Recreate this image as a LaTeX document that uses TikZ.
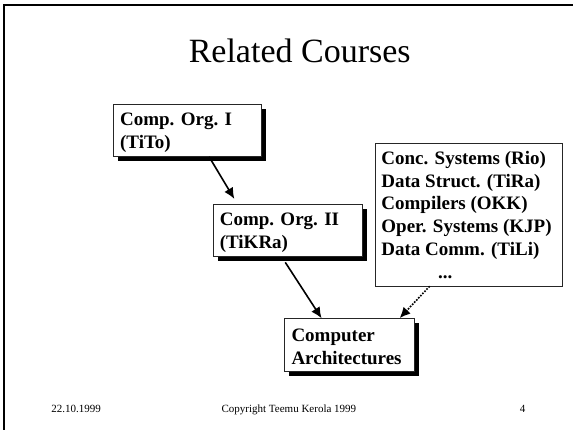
\documentclass[tikz,border=0pt]{standalone}
\usepackage{fontspec}
\setmainfont{Liberation Serif}
\usetikzlibrary{arrows.meta,shadows,calc}
\begin{document}
\begin{tikzpicture}[x=1pt,y=-1pt,
  frameline/.style={line width=2pt, black},
  box/.style={draw=black!85, line width=0.8pt, fill=white, anchor=north west, inner sep=0pt,
    drop shadow={shadow xshift=4.5pt, shadow yshift=-4.5pt, fill=black, opacity=1}},
  listbox/.style={draw=black!85, line width=0.8pt, fill=white, anchor=north west, inner sep=0pt},
  txt/.style={anchor=north west, inner sep=0pt, align=left, font=\fontsize{19}{23}\selectfont\bfseries},
  arr/.style={line width=1.6pt, -{Latex[length=11pt,width=10pt]}},
  dotarr/.style={line width=2.3pt, line cap=round, dash pattern=on 0pt off 3pt, -{Latex[length=11pt,width=10pt]}},
  foot/.style={anchor=base, inner sep=0pt, font=\fontsize{11}{13}\selectfont}]
\useasboundingbox (0,0) rectangle (573,430);
\fill[white] (0,0) rectangle (573,430);
\draw[frameline] (3.8,430) -- (3.8,5) -- (573,5);

\node[anchor=base, inner sep=0pt, font=\fontsize{34}{40}\selectfont] (title) at (299.7,63) {Related Courses};

\node[box, minimum width=148.7pt, minimum height=52pt] (b1) at (112.6,104) {};
\node[txt] (t1) at (119.9,113) {Comp. Org. I\\(TiTo)};

\node[box, minimum width=148.5pt, minimum height=52pt] (b2) at (213.2,204.5) {};
\node[txt] (t2) at (219.6,213) {Comp. Org. II\\(TiKRa)};

\node[listbox, minimum width=186.5pt, minimum height=143.3pt] (lst) at (375,142.7) {};
\node[txt, font=\fontsize{19}{22.8}\selectfont\bfseries] (tl) at (381.2,151) {Conc. Systems (Rio)\\Data Struct. (TiRa)\\Compilers (OKK)\\Oper. Systems (KJP)\\Data Comm. (TiLi)\\\hspace*{56.7pt}...};

\node[box, minimum width=129.7pt, minimum height=52.4pt] (b4) at (284.4,318.3) {};
\node[txt] (t4) at (291.3,328.7) {Computer\\Architectures};

\draw[arr, shorten >=6.5pt] ($(b1.south west)+(96.5,0)$) -- ($(b2.north west)+(24.5,0)$);
\draw[arr, shorten <=6pt] ($(b2.south west)+(68.8,0)$) -- ($(b4.north west)+(37.2,0)$);
\draw[dotarr] ($(lst.south west)+(54.1,0)$) -- ($(b4.north west)+(115.1,0)$);

\node[foot, anchor=base west] (date) at (51.2,412) {22.10.1999};
\node[foot] (copy) at (288.9,412) {Copyright Teemu Kerola 1999};
\node[foot] (page) at (522.6,412) {4};
\end{tikzpicture}
\end{document}
